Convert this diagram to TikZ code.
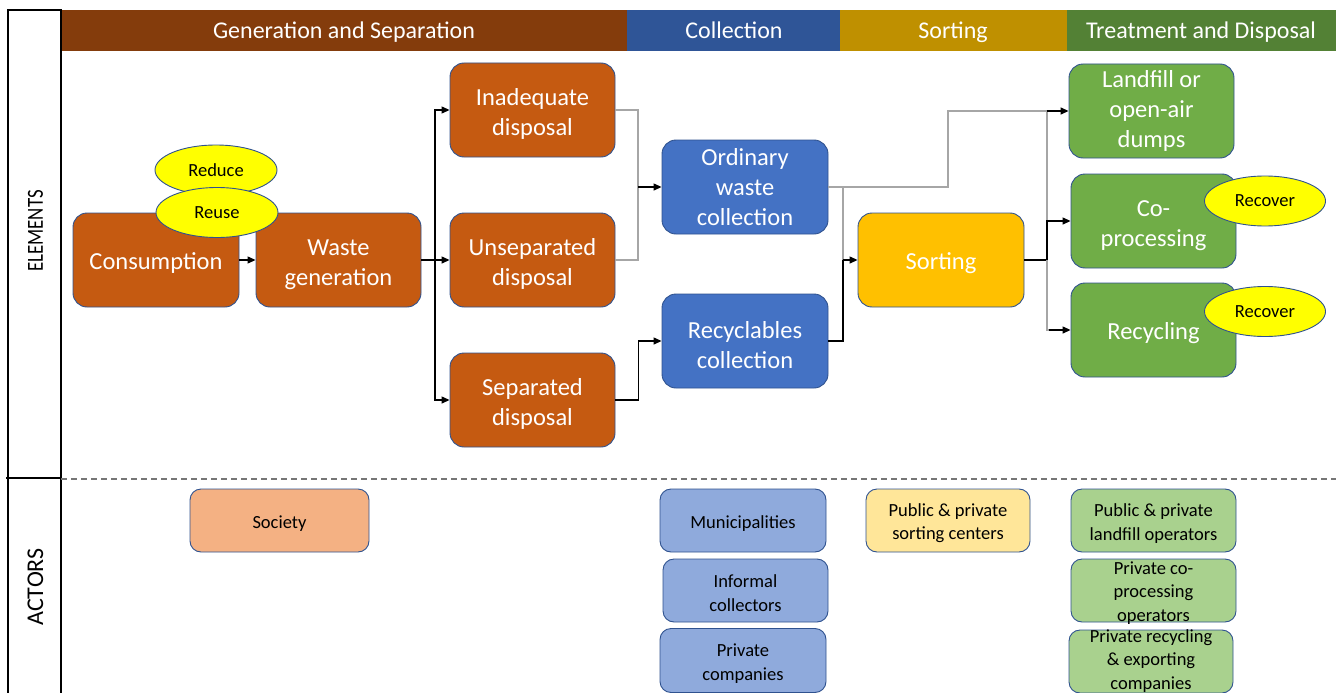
\documentclass[tikz,border=0pt]{standalone}
\usepackage{fontspec}
\setmainfont{Carlito}
\usetikzlibrary{arrows.meta,shapes.geometric}

\definecolor{hdrbrown}{HTML}{843C0C}
\definecolor{hdrblue}{HTML}{2F5597}
\definecolor{hdrgold}{HTML}{BF9000}
\definecolor{hdrgreen}{HTML}{538135}
\definecolor{genfill}{HTML}{C55A11}
\definecolor{colfill}{HTML}{4472C4}
\definecolor{sortfill}{HTML}{FFC000}
\definecolor{trtfill}{HTML}{70AD47}
\definecolor{edgeblue}{HTML}{2F528F}
\definecolor{socfill}{HTML}{F4B183}
\definecolor{actblue}{HTML}{8FAADC}
\definecolor{actgold}{HTML}{FFE699}
\definecolor{actgreen}{HTML}{A9D18E}
\definecolor{ovalyel}{HTML}{FFFF00}
\definecolor{lightline}{HTML}{A6A6A6}
\definecolor{dashgray}{HTML}{767676}

% struts that lower the first line of a box label a little
\newcommand{\elemstrut}{\rule{0pt}{24.5pt}}
\newcommand{\actstrut}{\rule{0pt}{18.5pt}}

\begin{document}
\begin{tikzpicture}[x=1pt,y=-1pt,
  elem/.style={draw=edgeblue, line width=0.9pt, rounded corners=14pt,
    minimum width=166pt, minimum height=94pt, align=center, text=white,
    font=\fontsize{24.5}{30}\selectfont, inner sep=2pt,
    execute at begin node={\rule{0pt}{23pt}}},
  actor/.style={draw=edgeblue, line width=0.9pt, rounded corners=11pt,
    minimum width=166pt, minimum height=63pt, align=center, text=black,
    font=\fontsize{18.5}{23.5}\selectfont, inner sep=1pt,
    execute at begin node={\rule{0pt}{18.5pt}}},
  actortext/.style={align=center, text=black,
    font=\fontsize{18.5}{23.5}\selectfont, inner sep=0pt},
  oval/.style={ellipse, draw=edgeblue, line width=0.9pt, fill=ovalyel,
    minimum width=122pt, minimum height=50pt, text=black,
    font=\fontsize{18.5}{22}\selectfont, inner sep=0pt},
  hdrtext/.style={anchor=base, text=white, font=\fontsize{24}{28}\selectfont, inner sep=0pt},
  sidetext/.style={rotate=90, text=black, inner sep=0pt},
  frame/.style={line width=2pt, black},
  bline/.style={line width=1.3pt, black},
  gline/.style={line width=1.2pt, lightline},
  tip/.style={-{Triangle[length=8pt,width=7pt]}}
]
\useasboundingbox (0,0) rectangle (1336,693);
\clip (0,0) rectangle (1336,693);

% stage header bar
\fill[hdrbrown] (61,10) rectangle (627,51);
\fill[hdrblue]  (627,10) rectangle (840,51);
\fill[hdrgold]  (840,10) rectangle (1067,51);
\fill[hdrgreen] (1067,10) rectangle (1336,51);
\node[hdrtext] (hgen) at (344,38.5) {Generation and Separation};
\node[hdrtext] (hcol) at (734,38.5) {Collection};
\node[hdrtext] (hsor) at (953,38.5) {Sorting};
\node[hdrtext] (htrt) at (1201,38.5) {Treatment and Disposal};

% row label frame
\draw[frame] (8,700) -- (8,10) -- (61,10) -- (61,700);
\draw[frame] (6,478) -- (61,478);
\node[sidetext, font=\fontsize{23}{26}\selectfont] (lel) at (35.5,231) {\scalebox{0.82}[1]{ELEMENTS}};
\node[sidetext, font=\fontsize{24}{27}\selectfont] (lac) at (35.5,587) {ACTORS};

% separator between elements and actors
\draw[dashgray, line width=1.1pt, dash pattern=on 6pt off 4pt] (61,479) -- (1336,479);

% elements
\node[elem, fill=genfill] (cons)  at (156,260)    {Consumption};
\node[elem, fill=genfill, minimum width=165pt] (waste) at (338.5,260) {\elemstrut Waste\\generation};
\node[elem, fill=genfill, minimum width=165pt] (inad)  at (532.5,110) {\elemstrut Inadequate\\disposal};
\node[elem, fill=genfill, minimum width=165pt] (unsep) at (532.5,260) {\elemstrut Unseparated\\disposal};
\node[elem, fill=genfill, minimum width=165pt] (sep)   at (532.5,400) {\elemstrut Separated\\disposal};
\node[elem, fill=colfill] (ord)  at (745,187) {Ordinary\\waste\\collection};
\node[elem, fill=colfill] (recc) at (745,341) {\elemstrut Recyclables\\collection};
\node[elem, fill=sortfill] (sort) at (941,260) {Sorting};
\node[elem, fill=trtfill, minimum width=165pt] (land) at (1151.5,111) {Landfill or\\open-air\\dumps};
\node[elem, fill=trtfill, minimum width=165pt] (cop)  at (1153.5,221) {\elemstrut Co-\\processing};
\node[elem, fill=trtfill, minimum width=165pt] (recy) at (1153.5,330) {Recycling};

% junction points of the connectors
\coordinate (j1) at (435,260);
\coordinate (j2) at (638,187);
\coordinate (j3) at (948,187);
\coordinate (j4) at (843,260);
\coordinate (j5) at (1047,260);

% connectors
\draw[bline, tip] (cons) -- (waste);
\draw[bline] (waste.east) -- (j1);
\draw[bline, tip] (j1) |- (inad.west);
\draw[bline, tip] (j1) -- (unsep.west);
\draw[bline, tip] (j1) |- (sep.west);
\draw[gline] (inad.east) -| (j2);
\draw[gline] (unsep.east) -| (j2);
\draw[bline, tip] (j2) -- (ord.west);
\draw[bline, tip] (sep.east) -- ++(23,0) |- (recc.west);
\draw[gline] (ord.east) -- (j3) |- ([xshift=-22pt]land.west);
\draw[gline] (ord.east) -| (j4);
\draw[bline] (recc.east) -| (j4);
\draw[bline, tip] (j4) -- (sort.west);
\draw[bline] (sort.east) -- (j5);
\draw[gline] (j5) |- ([xshift=-22pt]land.west);
\draw[gline] (j5) |- ([xshift=-22pt]recy.west);
\draw[bline, tip] ([xshift=-22pt]land.west) -- (land.west);
\draw[bline, tip] (j5) |- (cop.west);
\draw[bline, tip] ([xshift=-22pt]recy.west) -- (recy.west);

% waste hierarchy ovals
\node[oval] (reduce) at (216,170) {Reduce};
\node[oval] (reuse)  at (217,212.5) {Reuse};
\node[oval, minimum width=121pt] (recA) at (1265,201) {Recover};
\node[oval, minimum width=121pt] (recB) at (1265,311.5) {Recover};

% actors
\node[actor, fill=socfill, minimum width=179pt] (soc) at (279.5,520.5) {Society};
\node[actor, fill=actblue] (mun)  at (743,520.5) {Municipalities};
\node[actor, fill=actblue, minimum width=165pt] (inf)  at (745.5,590.5) {\actstrut Informal\\collectors};
\node[actor, fill=actblue, minimum height=64pt] (priv) at (743,660.5) {\actstrut Private\\companies};
\node[actor, fill=actgold, minimum width=164pt] (sortc) at (948,520.5) {\actstrut Public \& private\\sorting centers};
\node[actor, fill=actgreen, minimum width=165pt] (landop) at (1153.5,520.5) {\actstrut Public \& private\\landfill operators};
\node[actor, fill=actgreen, minimum width=165pt] (copop) at (1153.5,590.5) {};
\node[actortext] (copt) at (1153.5,593) {Private co-\\processing\\operators};
\node[actor, fill=actgreen, minimum width=164pt] (recop) at (1151,661.5) {};
\node[actortext] (recopt) at (1151,661) {Private recycling\\\& exporting\\companies};
\end{tikzpicture}
\end{document}
